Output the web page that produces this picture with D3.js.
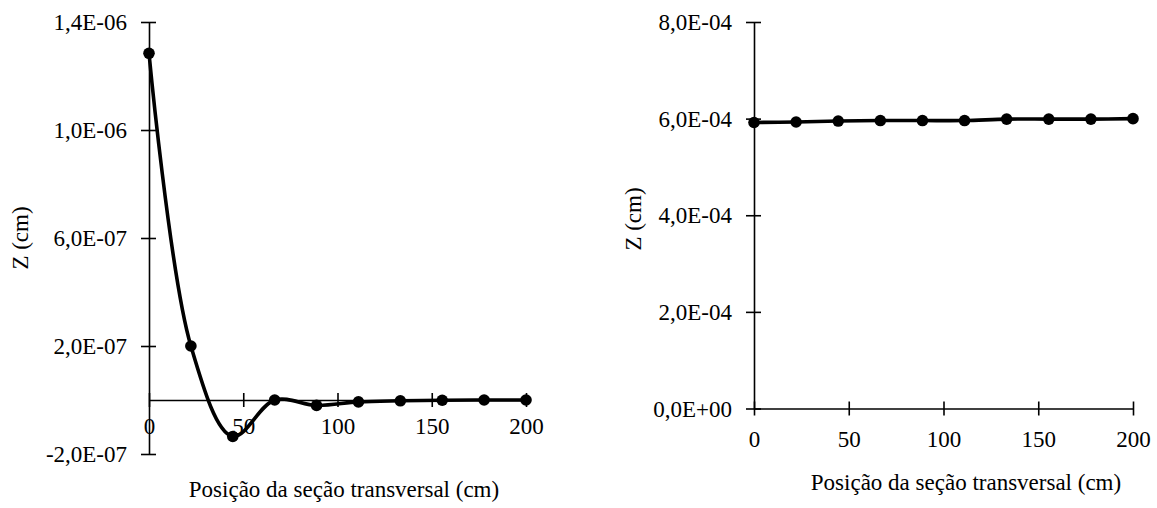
<!DOCTYPE html>
<html>
<head>
<meta charset="utf-8">
<script src="https://cdn.jsdelivr.net/npm/d3@7"></script>
<style>
  html, body { margin: 0; padding: 0; background: #fff; }
  svg text { font-family: "Liberation Serif", "Times New Roman", serif; fill: #000; }
</style>
</head>
<body>
<svg id="chart" width="1157" height="508"></svg>
<script>
// ---- Data ----
const positions = [0, 22.22, 44.44, 66.67, 88.89, 111.11, 133.33, 155.56, 177.78, 200];
const leftZ = [1.284e-6, 2.0e-7, -1.35e-7, 0.0, -2.0e-8, -7e-9, -3e-9, -1e-9, 0.0, 0.0];
const rightZ = [5.92e-4, 5.93e-4, 5.95e-4, 5.96e-4, 5.96e-4, 5.96e-4, 5.99e-4, 5.99e-4, 5.99e-4, 6.0e-4];
const xTicks = [0, 50, 100, 150, 200];
const leftYTicks = [-2e-7, 2e-7, 6e-7, 1e-6, 1.4e-6];
const rightYTicks = [0, 2e-4, 4e-4, 6e-4, 8e-4];
const xTitle = "Posição da seção transversal (cm)";
const yTitle = "Z (cm)";

function sciFmt(v) {
  if (Math.abs(v) < 1e-20) return "0,0E+00";
  let s = v.toExponential(1);
  let [m, e] = s.split("e");
  let sign = e[0] === "-" ? "-" : "+";
  let ex = Math.abs(parseInt(e, 10));
  return m.replace(".", ",") + "E" + sign + (ex < 10 ? "0" + ex : ex);
}

const svg = d3.select("#chart");
const FS = 23;
const FF = '"Liberation Serif", "Times New Roman", serif';

function panel(cfg) {
  const x = d3.scaleLinear().domain([0, 200]).range(cfg.xRange);
  const y = d3.scaleLinear().domain(cfg.yDomain).range(cfg.yRange);
  const g = svg.append("g");

  const ya = g.append("g").attr("transform", `translate(${x(0)},0)`)
    .call(d3.axisLeft(y).tickValues(cfg.yTicks).tickFormat(sciFmt).tickSizeOuter(0).tickSizeInner(8).tickPadding(14));
  ya.attr("font-family", FF);
  ya.select(".domain").attr("stroke", "#000").attr("stroke-width", 1.6);
  ya.selectAll(".tick line").attr("x1", 7).attr("x2", -8).attr("stroke", "#000").attr("stroke-width", 1.6);
  ya.selectAll(".tick text").attr("font-size", FS).attr("x", -22).attr("dy", "0.33em");

  const y0 = y(0);
  const xa = g.append("g").attr("transform", `translate(0,${y0})`)
    .call(d3.axisBottom(x).tickValues(xTicks).tickFormat(d3.format("d")).tickSizeOuter(0).tickSizeInner(7));
  xa.attr("font-family", FF);
  xa.select(".domain").attr("stroke", "#000").attr("stroke-width", 1.6);
  xa.selectAll(".tick line").attr("y1", -7).attr("y2", 7).attr("stroke", "#000").attr("stroke-width", 1.6);
  xa.selectAll(".tick text").attr("font-size", FS).attr("y", cfg.xLabelBaseline).attr("dy", 0);

  const line = d3.line().x((d, i) => x(positions[i])).y(d => y(d)).curve(d3.curveCatmullRom.alpha(0.5));
  g.append("path").datum(cfg.values).attr("d", line)
    .attr("fill", "none").attr("stroke", "#000").attr("stroke-width", 3.6).attr("stroke-linejoin", "round");

  g.selectAll("circle.pt").data(cfg.values).enter().append("circle")
    .attr("class", "pt")
    .attr("cx", (d, i) => x(positions[i])).attr("cy", d => y(d)).attr("r", 5.8).attr("fill", "#000");

  g.append("text").attr("x", cfg.xTitlePos[0]).attr("y", cfg.xTitlePos[1])
    .attr("text-anchor", "middle").attr("font-size", FS).attr("font-family", FF).text(xTitle);
  g.append("text").attr("transform", `translate(${cfg.yTitlePos[0]},${cfg.yTitlePos[1]}) rotate(-90)`)
    .attr("text-anchor", "middle").attr("font-size", FS).attr("font-family", FF).text(yTitle);
}

panel({
  xRange: [149, 526], yDomain: [-2e-7, 1.4e-6], yRange: [454, 22],
  yTicks: leftYTicks, values: leftZ, xLabelBaseline: 34,
  xTitlePos: [344, 497], yTitlePos: [28, 238]
});
panel({
  xRange: [754, 1133], yDomain: [0, 8e-4], yRange: [408.5, 22],
  yTicks: rightYTicks, values: rightZ, xLabelBaseline: 38,
  xTitlePos: [966, 490], yTitlePos: [641, 219]
});
</script>
</body>
</html>
